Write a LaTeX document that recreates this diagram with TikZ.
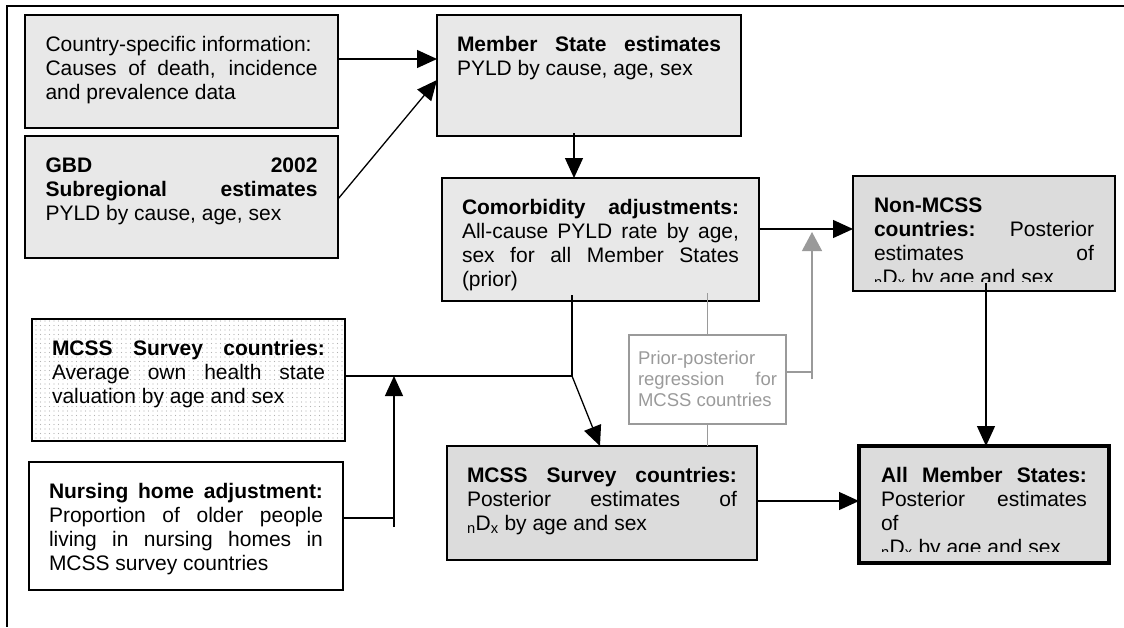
\documentclass[tikz,border=0pt]{standalone}
\usepackage{fontspec}
\setmainfont{Liberation Sans}
\usepackage{tikz}
\usetikzlibrary{arrows.meta,patterns.meta}
\usepackage{xcolor}
\definecolor{boxgray}{HTML}{E8E8E8}
\definecolor{boxdark}{HTML}{DCDCDC}
\definecolor{linegray}{HTML}{9A9A9A}
\newcommand{\cell}[3]{\parbox[c][#2][t]{#1}{\strut #3}}
\newcommand{\fullline}[1]{\makebox[\linewidth][s]{#1}}
\newcommand{\nDx}{\textsubscript{n}D\textsubscript{x}}

\begin{document}
\begin{tikzpicture}[x=1pt,y=-1pt,
  panel/.style={draw,line width=1.5pt,anchor=north west,inner xsep=20pt,inner ysep=20pt,outer sep=0pt,font=\fontsize{21pt}{24pt}\selectfont},
  conn/.style={line width=1.3pt,-{Triangle[length=20pt,width=18pt]}},
  link/.style={line width=1.3pt},
  graylink/.style={line width=1.3pt,draw=linegray},
  grayconn/.style={graylink,-{Triangle[length=19pt,width=20pt]}}]
\useasboundingbox (0,0) rectangle (1124,627);
\draw[line width=2pt] (1124,6) -- (7,6) -- (7,627);

\node[panel,fill=boxgray,inner xsep=20.5pt] (country) at (25,15) {\cell{272pt}{73pt}{Country-specific information:\\ \fullline{Causes of death, incidence}\\ and prevalence data}};
\node[panel,fill=boxgray,inner xsep=20.5pt] (gbd) at (25,136) {\cell{272pt}{82pt}{\fullline{\textbf{GBD 2002}}\\ \fullline{\textbf{Subregional estimates}}\\ PYLD by cause, age, sex}};
\node[panel,fill=boxgray] (memberstate) at (437,15) {\cell{264pt}{81pt}{\fullline{\textbf{Member State estimates}}\\ PYLD by cause, age, sex}};
\node[panel,fill=boxgray] (comorb) at (442,178) {\cell{277pt}{83pt}{\fullline{\textbf{Comorbidity adjustments:}}\\ \fullline{All-cause PYLD rate by age,}\\ \fullline{sex for all Member States}\\ (prior)}};
\node[panel,pattern={Dots[distance=4.5pt,radius=0.7pt]},pattern color=gray!60] (mcss) at (32,319) {\cell{273pt}{82pt}{\fullline{\textbf{MCSS Survey countries:}}\\ \fullline{Average own health state}\\ valuation by age and sex}};
\node[panel] (nursing) at (29,462) {\cell{274pt}{88pt}{\fullline{\textbf{Nursing home adjustment:}}\\ \fullline{Proportion of older people}\\ \fullline{living in nursing homes in}\\ MCSS survey countries}};
\node[panel,fill=boxdark] (mcssest) at (447,446) {\cell{270pt}{74pt}{\fullline{\textbf{MCSS Survey countries:}}\\ \fullline{Posterior estimates of}\\ \nDx{} by age and sex}};
\node[panel,draw=linegray,text=linegray,line width=1.3pt,inner xsep=9pt,inner ysep=15pt,font=\fontsize{18.5pt}{21pt}\selectfont] (prior) at (629,335) {\cell{139pt}{59pt}{Prior-posterior\\ \fullline{regression for}\\ MCSS countries}};

\node[panel,fill=boxdark,inner xsep=21pt] (nonmcss) at (853,176) {\cell{220pt}{75pt}{}};
\begin{scope}
\clip (nonmcss.north west) rectangle ([yshift=10pt]nonmcss.south east);
\node[panel,draw=none,inner xsep=21pt] (nonmcsstext) at (853,176) {\cell{220pt}{75pt}{\textbf{Non-MCSS}\\ \fullline{\textbf{countries:} Posterior}\\ \fullline{estimates of}\\ \nDx{} by age and sex}};
\end{scope}
\node[panel,fill=boxdark,line width=4pt,inner xsep=22pt] (allms) at (859,446) {\cell{206pt}{77pt}{}};
\begin{scope}
\clip (allms.north west) rectangle ([yshift=12pt]allms.south east);
\node[panel,draw=none,inner xsep=22pt] (allmstext) at (859,446) {\cell{206pt}{77pt}{\fullline{\textbf{All Member States:}}\\ \fullline{Posterior estimates}\\ of\\ \nDx{} by age and sex}};
\end{scope}

\coordinate (msout) at ([xshift=-15pt,yshift=3pt]memberstate.south);
\coordinate (cmout) at ([yshift=-51pt]comorb.north east);
\coordinate (cmdown) at ([xshift=130pt,yshift=6pt]comorb.south west);
\coordinate (mcout) at ([yshift=-57pt]mcss.north east);
\coordinate (join) at (cmdown |- mcout);
\coordinate (nursout) at ([yshift=-56pt]nursing.north east);
\coordinate (nurstail) at (394,527);
\coordinate (regout) at ([yshift=-37pt]prior.north east);
\coordinate (regtail) at (812,379);
\coordinate (regtip) at (812,232);
\coordinate (nmout) at ([xshift=133pt,yshift=8pt]nonmcss.south west);
\coordinate (esout) at ([yshift=-55pt]mcssest.north east);
\coordinate (diagtip) at ([xshift=153pt]mcssest.north west);
\path (prior.north |- comorb.south) ++(0,-8) coordinate (cmgray);

\draw[conn] ([yshift=-44pt]country.north east) -- ([yshift=-44pt]memberstate.north west);
\draw[conn] ([yshift=-63pt]gbd.north east) -- ([yshift=-65pt]memberstate.north west);
\draw[conn] (msout) -- (msout |- comorb.north);
\draw[conn] (cmout) -- (cmout -| nonmcss.west);
\draw[graylink] (cmgray) -- (prior.north);
\draw[graylink] (prior.south) -- (prior.south |- mcssest.north);
\draw[graylink] (regout) -- (regout -| regtail);
\draw[grayconn] (regtail) -- (regtip);
\draw[link] (cmdown) -- (join);
\draw[link] (mcout) -- (join);
\draw[conn] (join) -- (diagtip);
\draw[link] (nursout) -- (nursout -| nurstail);
\draw[conn] (nurstail) -- (nurstail |- join);
\draw[conn] (nmout) -- (nmout |- allms.north);
\draw[conn] (esout) -- (esout -| allms.west);
\end{tikzpicture}
\end{document}
